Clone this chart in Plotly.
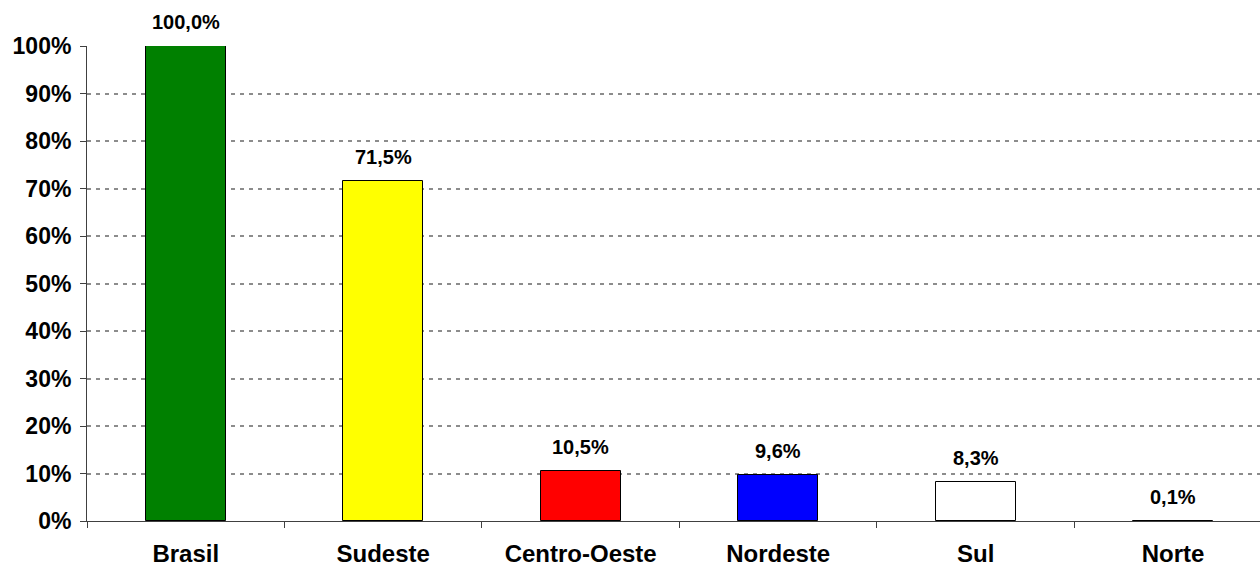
import plotly.graph_objects as go

regioes = ["Brasil", "Sudeste", "Centro-Oeste", "Nordeste", "Sul", "Norte"]
participacao = [100.0, 71.5, 10.5, 9.6, 8.3, 0.1]
cores = ["#008000", "#FFFF00", "#FF0000", "#0000FF", "#FFFFFF", "#FFFFFF"]
ticks_y = [0, 10, 20, 30, 40, 50, 60, 70, 80, 90, 100]
titulo = "Distribuição da arrecadação total por macrorregião"

fonte = "Liberation Sans, Arial, sans-serif"

fig = go.Figure()
fig.add_trace(go.Bar(
    x=regioes, y=participacao,
    marker=dict(color=cores, line=dict(color="#000000", width=1)),
    width=0.405,
    hoverinfo="skip",
))

# rotulos de dados acima das barras
for r, v in zip(regioes, participacao):
    fig.add_annotation(
        x=r, y=v, text="<b>" + f"{v:.1f}".replace(".", ",") + "%</b>",
        showarrow=False, yanchor="bottom", yshift=11,
        font=dict(family=fonte, size=20, color="#000000"),
    )

# titulo cortado no topo (como na imagem original)
fig.add_annotation(
    xref="paper", yref="paper", x=0.083, y=1.094,
    xanchor="left", yanchor="bottom", showarrow=False,
    text=titulo, font=dict(family=fonte, size=18, color="#000000"),
)

fig.update_layout(
    width=1260, height=568,
    margin=dict(l=87, r=0, t=46, b=47, autoexpand=False),
    paper_bgcolor="white", plot_bgcolor="white",
    showlegend=False,
    bargap=0,
)
fig.update_xaxes(
    type="category", range=[-0.5, 5.44], automargin=False,
    showline=True, linecolor="#404040", linewidth=1,
    ticks="outside", ticklen=6, tickcolor="#404040", tickson="boundaries",
    tickfont=dict(family=fonte, size=24, color="#000000"),
    tickprefix="<b>", ticksuffix="</b>",
    ticklabelstandoff=11,
    showgrid=False,
)
fig.update_yaxes(
    range=[0, 100], tickvals=ticks_y, automargin=False,
    ticktext=[f"<b>{t}%</b>" for t in ticks_y],
    showline=True, linecolor="#404040", linewidth=1,
    ticks="outside", ticklen=6, tickcolor="#404040",
    tickfont=dict(family=fonte, size=23, color="#000000"),
    ticklabelstandoff=4,
    showgrid=True, gridcolor="#8c8c8c", gridwidth=1.5, griddash="4px,5px",
    zeroline=False,
)
fig.update_traces(cliponaxis=False)

fig.write_html("out.html", config={"displayModeBar": False},
               post_script="document.body.style.margin='0';")
